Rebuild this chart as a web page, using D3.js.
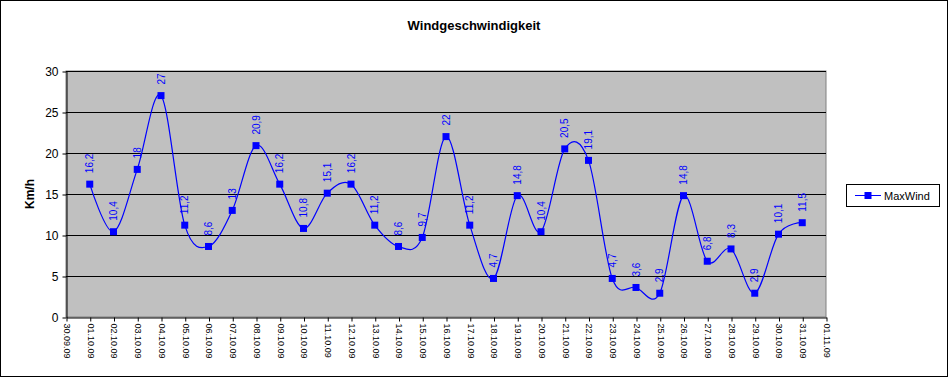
<!DOCTYPE html>
<html>
<head>
<meta charset="utf-8">
<script src="https://cdn.jsdelivr.net/npm/d3@7"></script>
<style>
  body { margin: 0; background: #fff; }
  svg { display: block; font-family: "Liberation Sans", Arial, sans-serif; }
</style>
</head>
<body>
<div id="chart"></div>
<script>
const tickLabels = ["30.09.09","01.10.09","02.10.09","03.10.09","04.10.09","05.10.09","06.10.09","07.10.09",
  "08.10.09","09.10.09","10.10.09","11.10.09","12.10.09","13.10.09","14.10.09","15.10.09","16.10.09",
  "17.10.09","18.10.09","19.10.09","20.10.09","21.10.09","22.10.09","23.10.09","24.10.09","25.10.09",
  "26.10.09","27.10.09","28.10.09","29.10.09","30.10.09","31.10.09","01.11.09"]
const dates = tickLabels.slice(1, 32)
const maxWind = [16.2,10.4,18,27,11.2,8.6,13,20.9,16.2,10.8,15.1,16.2,11.2,8.6,9.7,22,11.2,4.7,14.8,10.4,
  20.5,19.1,4.7,3.6,2.9,14.8,6.8,8.3,2.9,10.1,11.5]
const yTicks = [0,5,10,15,20,25,30]

drawChart("#chart")

function drawChart(id){
  const canvas = {width: 949, height: 378, margin: {top: 71, bottom: 61, left: 66, right: 123}}
  const svg = d3.select(id).append("svg").attr("width", canvas.width).attr("height", canvas.height)
  const x0 = canvas.margin.left, x1 = canvas.width - canvas.margin.right
  const y0 = canvas.height - canvas.margin.bottom, y1 = canvas.margin.top

  const xScale = d3.scalePoint().domain(tickLabels).range([x0, x1])
  const yScale = d3.scaleLinear().domain([0, 30]).range([y0, y1])

  // outer frame
  svg.append("rect").attr("x", 0.5).attr("y", 0.5).attr("width", canvas.width - 2).attr("height", canvas.height - 2)
    .attr("fill", "#fff").attr("stroke", "#000")

  svg.append("text").attr("x", 474).attr("y", 30).attr("text-anchor", "middle")
    .attr("font-size", 13).attr("font-weight", "bold").text("Windgeschwindigkeit")

  // plot area
  svg.append("rect").attr("x", x0).attr("y", y1).attr("width", x1 - x0).attr("height", y0 - y1)
    .attr("fill", "#c0c0c0").attr("stroke", "#808080")

  svg.append("g").selectAll("line").data(yTicks.filter(d => d > 0)).join("line")
    .attr("x1", x0).attr("x2", x1).attr("y1", d => Math.round(yScale(d)) + 0.5).attr("y2", d => Math.round(yScale(d)) + 0.5)
    .attr("stroke", "#000")

  // y axis
  const yAxis = svg.append("g").attr("transform", `translate(${x0 + 0.5},0.5)`)
    .call(d3.axisLeft(yScale).tickValues(yTicks).tickSize(4).tickSizeOuter(0))
  yAxis.select(".domain").attr("stroke", "#000")
  yAxis.selectAll("text").attr("font-size", 12).attr("font-family", "Liberation Sans, Arial, sans-serif").attr("fill", "#000").attr("x", -8)

  // x axis
  const xAxis = svg.append("g").attr("transform", `translate(0.5,${y0 + 0.5})`)
    .call(d3.axisBottom(xScale).tickSize(4).tickSizeOuter(0))
  xAxis.select(".domain").attr("stroke", "#000")
  xAxis.selectAll("text").attr("font-size", 9).attr("font-family", "Liberation Sans, Arial, sans-serif").attr("fill", "#000")
    .attr("transform", "rotate(90)").attr("x", 6).attr("y", 0).attr("dy", "0.35em").attr("text-anchor", "start")

  svg.append("text").attr("transform", `translate(34,${(y0 + y1) / 2}) rotate(-90)`)
    .attr("text-anchor", "middle").attr("font-size", 12).attr("font-weight", "bold").text("Km/h")

  // series
  const line = d3.line().x((d, i) => xScale(dates[i])).y(d => yScale(d)).curve(d3.curveCardinal.tension(0))
  svg.append("path").datum(maxWind).attr("d", line).attr("fill", "none").attr("stroke", "#0000ff").attr("stroke-width", 1.2)

  svg.append("g").selectAll("rect").data(maxWind).join("rect")
    .attr("x", (d, i) => xScale(dates[i]) - 3.5).attr("y", d => yScale(d) - 3.5)
    .attr("width", 7).attr("height", 7).attr("fill", "#0000ff")

  svg.append("g").selectAll("text").data(maxWind).join("text")
    .attr("transform", (d, i) => `translate(${xScale(dates[i]) + 3.5},${yScale(d) - 11}) rotate(-90)`)
    .attr("font-size", 10).attr("fill", "#0000ff")
    .text(d => String(d).replace(".", ","))

  // legend
  const lg = svg.append("g")
  lg.append("rect").attr("x", 846.5).attr("y", 184.5).attr("width", 93).attr("height", 22).attr("fill", "#fff").attr("stroke", "#000")
  lg.append("line").attr("x1", 855).attr("x2", 881).attr("y1", 195.5).attr("y2", 195.5).attr("stroke", "#0000ff")
  lg.append("rect").attr("x", 864.5).attr("y", 192).attr("width", 7).attr("height", 7).attr("fill", "#0000ff")
  lg.append("text").attr("x", 884).attr("y", 199.5).attr("font-size", 11).text("MaxWind")
}
</script>
</body>
</html>
